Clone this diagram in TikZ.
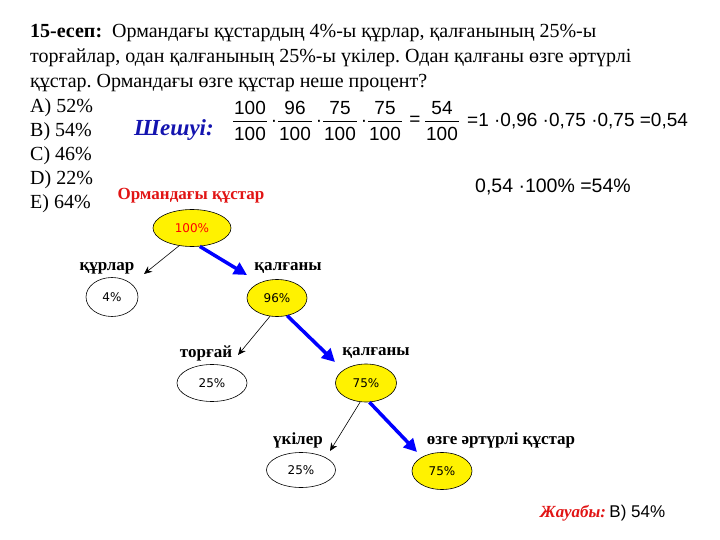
\documentclass[tikz,border=0pt]{standalone}
\usepackage{fontspec}
\setmainfont{Liberation Serif}
\setsansfont{Liberation Sans}
\newfontfamily\pctfont{DejaVu Sans}
\usetikzlibrary{shapes.geometric,arrows.meta,positioning}
\definecolor{solblue}{RGB}{20,20,175}
\definecolor{ansred}{RGB}{225,20,20}
\frenchspacing
\tikzset{
  txt/.style={inner sep=0pt, font=\fontsize{20}{24}\selectfont},
  eq/.style={inner sep=0pt, font=\sffamily\fontsize{19}{22}\selectfont},
  lbl/.style={inner sep=0pt, font=\bfseries\fontsize{17}{20}\selectfont},
  pct/.style={ellipse, draw, line width=0.6pt, inner sep=0pt, font=\pctfont\fontsize{12}{14}\selectfont},
  rest/.style={pct, fill=yellow},
  side/.style={-{Stealth[length=8pt,width=7pt]}, line width=0.6pt},
  main/.style={-{Triangle[length=13pt,width=13pt]}, line width=3.5pt, blue},
}
\begin{document}
\begin{tikzpicture}[x=1pt,y=-1pt]
\useasboundingbox (0,0) rectangle (720,540);
% есептің шарты
\node[txt, anchor=base west] (q1) at (30,38) {\textbf{15-есеп:}\ \ Ормандағы құстардың 4\%-ы құрлар, қалғанының 25\%-ы};
\node[txt, anchor=base west] (q2) at (30,63) {торғайлар, одан қалғанының 25\%-ы үкілер. Одан қалғаны өзге әртүрлі};
\node[txt, anchor=base west] (q3) at (30,88) {құстар. Ормандағы өзге құстар неше процент?};
\foreach \v [count=\i] in {A) 52\%, B) 54\%, C) 46\%, D) 22\%, E) 64\%}
  \node[txt, anchor=base west] (a\i) at (30,89+24*\i) {\v};
% шешуі
\node[font=\bfseries\itshape\fontsize{23}{26}\selectfont, text=solblue, inner sep=0pt] (sol) at (174,130) {Шешуі:};
\foreach \x/\n [count=\i] in {250/100, 295/96, 340/75, 385/75, 442/54}{
  \node[eq] (n\i) at (\x,108) {\n};
  \node[eq] (d\i) at (\x,134) {100};
  \draw[line width=0.6pt] (\x-17,121) -- (\x+17,121);
}
\foreach \x [count=\i] in {274,319,364}
  \node[eq] (dot\i) at (\x,123) {·};
\node[eq] (eqs) at (415,121) {=};
\node[eq, anchor=west] (prod) at (467,121) {=1 ·0,96 ·0,75 ·0,75 =0,54};
\node[eq, anchor=west, font=\sffamily\fontsize{19.5}{22}\selectfont] (pcnt) at (475,187) {0,54 ·100\% =54\%};
% дерек ағашы
\node[lbl, text=ansred] (title) at (191,196) {Ормандағы құстар};
\node[rest, minimum width=78, minimum height=37, text=red] (all) at (192,228) {100\%};
\node[lbl] (l1) at (107,268) {құрлар};
\node[pct, minimum width=52, minimum height=39] (p1) at (112,297) {4\%};
\node[lbl] (r1) at (288,268) {қалғаны};
\node[rest, minimum width=60, minimum height=37] (q96) at (277,298) {96\%};
\node[lbl] (l2) at (206,353) {торғай};
\node[pct, minimum width=70, minimum height=37] (p2) at (212,383) {25\%};
\node[lbl] (r2) at (376,353) {қалғаны};
\node[rest, minimum width=61, minimum height=38] (q75) at (366,383) {75\%};
\node[lbl] (l3) at (298,440) {үкілер};
\node[pct, minimum width=69, minimum height=35] (p3) at (301,470) {25\%};
\node[lbl] (r3) at (501,440) {өзге әртүрлі құстар};
\node[rest, minimum width=60, minimum height=37] (q54) at (442,471) {75\%};
\coordinate (e1) at (144,274);
\coordinate (e2) at (247,275);
\coordinate (e3) at (238,355);
\coordinate (e4) at (335,362);
\coordinate (e5) at (330,451);
\coordinate (e6) at (417,452);
\draw[side] (all.-126) -- (e1);
\draw[main] (all.-67) -- (e2);
\draw[side] (q96.-111) -- (e3);
\draw[main] (q96.-60) -- (e4);
\draw[side] (q75.-107) -- (e5);
\draw[main] (q75.-80) -- (e6);
% жауабы
\node[font=\bfseries\itshape\fontsize{17}{20}\selectfont, text=ansred, inner sep=0pt, anchor=west] (ans) at (540,513) {Жауабы:};
\node[font=\sffamily\fontsize{17}{20}\selectfont, inner sep=0pt, right=3pt of ans] (ansv) {B) 54\%};
\end{tikzpicture}
\end{document}
